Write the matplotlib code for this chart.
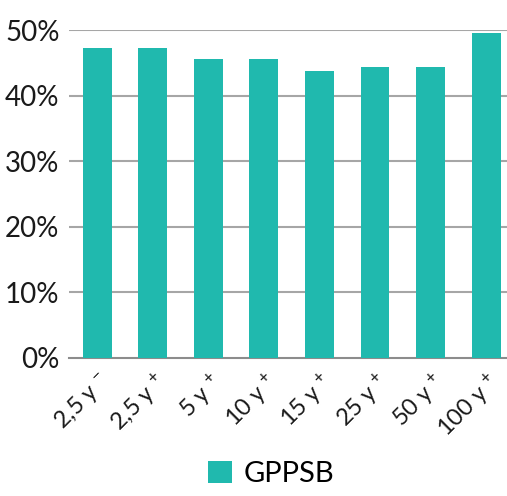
import matplotlib
matplotlib.use('Agg')
import matplotlib.pyplot as plt
import numpy as np

# data
categories = ['2,5 y $^{-}$', '2,5 y $^{+}$', '5 y $^{+}$', '10 y $^{+}$',
              '15 y $^{+}$', '25 y $^{+}$', '50 y $^{+}$', '100 y $^{+}$']
gppsb = [47.2, 47.2, 45.5, 45.5, 43.7, 44.3, 44.3, 49.6]
yticks = [0, 10, 20, 30, 40, 50]
ytick_labels = ['0%', '10%', '20%', '30%', '40%', '50%']

teal = '#20b9ae'
plt.rcParams['font.family'] = ['Lato', 'DejaVu Sans']
plt.rcParams['mathtext.fontset'] = 'custom'
plt.rcParams['mathtext.rm'] = 'Lato'
plt.rcParams['mathtext.it'] = 'Lato'
plt.rcParams['mathtext.default'] = 'regular'

fig = plt.figure(figsize=(5.07, 4.96), dpi=100)
ax = fig.add_axes([0.1367, 0.279, 0.877, 0.6605])

x = np.arange(len(categories))
ax.bar(x, gppsb, width=0.52, color=teal, label='GPPSB', zorder=3)

ax.set_xlim(-0.5, len(categories) - 0.5)
ax.set_ylim(0, 50)
ax.set_yticks(yticks)
ax.set_yticklabels(ytick_labels, fontsize=20, color='#1a1a1a')
ax.set_xticks(x)
ax.set_xticklabels(categories, fontsize=17, rotation=45, ha='right',
                   rotation_mode='anchor', color='#1a1a1a')
ax.tick_params(axis='both', length=0)
ax.tick_params(axis='y', pad=7)
ax.tick_params(axis='x', pad=8)

for y in yticks[1:]:
    ax.axhline(y, color='#a6a6a6', lw=1.5, zorder=1)
for s in ['top', 'right', 'left']:
    ax.spines[s].set_visible(False)
ax.spines['bottom'].set_color('#8c8c8c')
ax.spines['bottom'].set_linewidth(1.5)

fig.legend(loc='lower center', bbox_to_anchor=(0.535, -0.035), frameon=False,
           fontsize=21, handlelength=0.8, handleheight=0.8, handletextpad=0.4)

fig.savefig('out.png', dpi=100)
